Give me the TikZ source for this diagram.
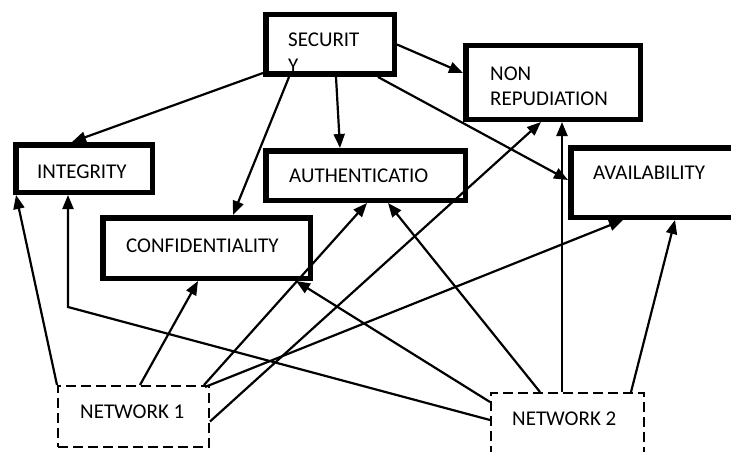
\documentclass[tikz,border=0pt]{standalone}
\usepackage{fontspec}
\setmainfont{Carlito}
\usetikzlibrary{arrows.meta}

\begin{document}
\begin{tikzpicture}[x=1pt,y=-1pt]

\tikzstyle{reqnode} = [rectangle,draw=black,line width=5.5pt,inner sep=0]%
\tikzstyle{netnode} = [rectangle,draw=black,line width=2pt,dash pattern=on 10pt off 5pt,inner sep=0,minimum height=61pt]%
\tikzstyle{reqtext} = [inner sep=0,anchor=west,font=\fontsize{21}{25.5}\selectfont]%
\tikzstyle{reqarc} = [-{Triangle[length=14pt,width=11pt]},line width=2.2pt]%

\useasboundingbox (0,0) rectangle (731,452);

\node[reqnode,minimum width=128.5pt,minimum height=59.5pt] (sec) at (330,44.5) {};
\node[reqnode,minimum width=174.5pt,minimum height=73.5pt] (nonrep) at (553,82.5) {};
\node[reqnode,minimum width=136.5pt,minimum height=47.5pt] (integ) at (84,168.5) {};
\node[reqnode,minimum width=199.5pt,minimum height=49.5pt] (auth) at (365.5,175.5) {};
\node[reqnode,minimum width=162.5pt,minimum height=69.5pt] (avail) at (652,182.5) {};
\node[reqnode,minimum width=207.5pt,minimum height=60.5pt] (conf) at (206.5,248) {};

\node[netnode,minimum width=151pt] (net1) at (133.5,416.5) {};
\node[netnode,minimum width=153pt] (net2) at (567.5,423.5) {};

% text of the boxes
\begin{scope}
\clip ([xshift=5.5pt,yshift=-5.5pt]sec.north west) rectangle ([xshift=-5.5pt,yshift=5.5pt]sec.south east);
\node[reqtext,anchor=north west,align=left] (sectext) at (288,33) {SECURIT\\Y};
\end{scope}
\node[reqtext,anchor=north west,align=left] (nonreptext) at (490,66.3) {NON\\REPUDIATION};
\node[reqtext] (integtext) at (37,172) {INTEGRITY};
\node[reqtext] (authtext) at (289,176) {AUTHENTICATIO};
\node[reqtext] (availtext) at (593,173) {AVAILABILITY};
\node[reqtext] (conftext) at (126,246) {CONFIDENTIALITY};
\node[reqtext] (net1text) at (80,412) {NETWORK 1};
\node[reqtext] (net2text) at (512,419) {NETWORK 2};

% security
\draw[reqarc] ([yshift=4pt]sec.south west) -- ([xshift=59pt]integ.north west);
\draw[reqarc] ([xshift=26pt]sec.south west) -- ([xshift=133pt]conf.north west);
\draw[reqarc] ([xshift=73pt]sec.south west) -- ([xshift=77pt]auth.north west);
\draw[reqarc] ([xshift=115pt]sec.south west) -- ([yshift=-35pt]avail.north west);
\draw[reqarc] (sec.east) -- ([yshift=-30pt]nonrep.north west);

% network 1
\draw[reqarc] (net1.north west) -- ([xshift=3pt]integ.south west);
\draw[reqarc] ([xshift=83pt]net1.north west) -- ([xshift=98pt]conf.south west);
\draw[reqarc] ([xshift=-6pt]net1.north east) -- ([xshift=104pt]auth.south west);
\draw[reqarc] ([xshift=-5pt,yshift=-2pt]net1.north east) -- ([xshift=55pt]avail.south west);
\draw[reqarc] ([yshift=-5pt]net1.east) -- ([xshift=78pt]nonrep.south west);

% network 2
\coordinate (kink) at (68,307);
\draw[reqarc] ([yshift=-28pt]net2.north west) -- (kink) -- ([xshift=55pt]integ.south west);
\draw[reqarc] ([yshift=-10pt]net2.north west) -- ([xshift=-17pt]conf.south east);
\draw[reqarc] ([xshift=50pt]net2.north west) -- ([xshift=125pt]auth.south west);
\draw[reqarc] ([xshift=72pt]net2.north west) -- ([xshift=99pt]nonrep.south west);
\draw[reqarc] ([xshift=141pt]net2.north west) -- ([xshift=107pt]avail.south west);

\end{tikzpicture}
\end{document}
